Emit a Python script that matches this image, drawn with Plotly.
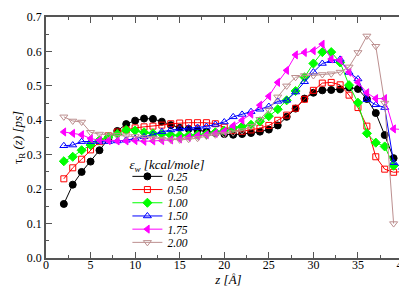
import plotly.graph_objects as go

z_short = list(range(2, 40))   # 2..39
z_long = list(range(2, 41))    # 2..40

labels = ["0.25", "0.50", "1.00", "1.50", "1.75", "2.00"]

tau_025 = [0.157, 0.213, 0.250, 0.280, 0.313, 0.346, 0.369, 0.389, 0.399, 0.405,
           0.404, 0.396, 0.386, 0.378, 0.375, 0.371, 0.367, 0.363, 0.360, 0.358,
           0.360, 0.363, 0.367, 0.373, 0.385, 0.410, 0.434, 0.463, 0.480, 0.487,
           0.488, 0.490, 0.495, 0.491, 0.462, 0.421, 0.357, 0.290]
tau_050 = [0.230, 0.262, 0.287, 0.314, 0.338, 0.355, 0.366, 0.372, 0.378, 0.381,
           0.383, 0.386, 0.390, 0.392, 0.393, 0.393, 0.393, 0.390, 0.380, 0.370,
           0.368, 0.372, 0.377, 0.385, 0.400, 0.415, 0.435, 0.461, 0.487, 0.508,
           0.510, 0.503, 0.473, 0.437, 0.383, 0.294, 0.258, 0.249, 0.251]
tau_100 = [0.281, 0.294, 0.313, 0.328, 0.342, 0.351, 0.360, 0.372, 0.370, 0.365,
           0.362, 0.360, 0.357, 0.356, 0.356, 0.358, 0.360, 0.365, 0.370, 0.378,
           0.382, 0.387, 0.397, 0.412, 0.432, 0.458, 0.485, 0.525, 0.565, 0.598,
           0.598, 0.568, 0.502, 0.451, 0.362, 0.335, 0.324, 0.268]
tau_150 = [0.326, 0.328, 0.338, 0.338, 0.338, 0.338, 0.340, 0.342, 0.347, 0.352,
           0.358, 0.367, 0.372, 0.375, 0.377, 0.379, 0.382, 0.388, 0.395, 0.410,
           0.417, 0.425, 0.432, 0.440, 0.455, 0.458, 0.482, 0.512, 0.540, 0.565,
           0.573, 0.577, 0.539, 0.520, 0.460, 0.445, 0.437, 0.277, 0.263]
tau_175 = [0.366, 0.362, 0.358, 0.347, 0.342, 0.341, 0.340, 0.340, 0.341, 0.339,
           0.340, 0.341, 0.343, 0.346, 0.351, 0.355, 0.358, 0.362, 0.368, 0.384,
           0.400, 0.418, 0.444, 0.470, 0.510, 0.545, 0.590, 0.597, 0.602, 0.621,
           0.578, 0.574, 0.540, 0.510, 0.480, 0.463, 0.463, 0.375, 0.373]
tau_200 = [0.410, 0.398, 0.395, 0.365, 0.360, 0.358, 0.357, 0.355, 0.353, 0.350,
           0.348, 0.345, 0.343, 0.343, 0.345, 0.348, 0.354, 0.358, 0.360, 0.364,
           0.370, 0.383, 0.403, 0.430, 0.468, 0.500, 0.525, 0.530, 0.530, 0.533,
           0.535, 0.540, 0.555, 0.597, 0.645, 0.615, 0.450, 0.100]

x_ticks = [0, 5, 10, 15, 20, 25, 30, 35, 40]
y_ticks = [0.0, 0.1, 0.2, 0.3, 0.4, 0.5, 0.6, 0.7]

series = [
    (z_short, tau_025, "black", "circle", "black", 7),
    (z_long, tau_050, "#ff0000", "square-open", "#ff0000", 6),
    (z_short, tau_100, "#00ff00", "diamond", "#00ff00", 7),
    (z_long, tau_150, "#0000ff", "triangle-up-open", "#0000ff", 7),
    (z_long, tau_175, "#ff00ff", "triangle-left", "#ff00ff", 7),
    (z_short, tau_200, "#bc8f8f", "triangle-down-open", "#bc8f8f", 7),
]

FONT = "Liberation Serif, Times New Roman, serif"

fig = go.Figure()
for (zz, yy, col, sym, mcol, msz), lab in zip(series, labels):
    fig.add_trace(go.Scatter(
        x=zz, y=yy, name=lab, mode="lines+markers",
        line=dict(color=col, width=1),
        marker=dict(symbol=sym, color=mcol, size=msz, line=dict(color=mcol, width=1)),
    ))

axis_common = dict(
    showline=True, linecolor="#555555", linewidth=1.5, mirror="ticks",
    ticks="inside", tickcolor="#555555", ticklen=6, tickwidth=1,
    showgrid=False, zeroline=False,
)

fig.update_xaxes(
    range=[0, 40.95], tickvals=x_ticks, ticktext=[str(v) for v in x_ticks],
    tickfont=dict(family=FONT, size=12, color="black"),
    ticklabelstandoff=-5,
    minor=dict(dtick=2.5, ticklen=3, ticks="inside", tickcolor="#555555"),
    title=dict(text="<i>z [Å]</i>", font=dict(family=FONT, size=13, color="black"), standoff=0),
    **axis_common,
)
fig.update_yaxes(
    range=[0, 0.7], tickvals=y_ticks, ticktext=[f"{v:.1f}" for v in y_ticks],
    tickfont=dict(family=FONT, size=12, color="black"),
    minor=dict(dtick=0.05, ticklen=3, ticks="inside", tickcolor="#555555"),
    ticklabeloverflow="allow",
    title=dict(text="τ<sub>R</sub> <i>(z) [ps]</i>", font=dict(family=FONT, size=13, color="black"), standoff=0),
    **axis_common,
)

fig.update_layout(
    width=407, height=287,
    margin=dict(l=38, r=2, t=5, b=31),
    paper_bgcolor="white", plot_bgcolor="white",
    showlegend=True,
    legend=dict(
        x=0.223, y=0.44, xanchor="left", yanchor="top",
        bgcolor="rgba(0,0,0,0)", borderwidth=0,
        itemwidth=30,
        font=dict(family=FONT, size=11.5, color="black", style="italic"),
        title=dict(text="ε<sub>w</sub> <i>[kcal/mole]</i>", font=dict(family=FONT, size=13, color="black")),
    ),
)

post = """
var gd = document.getElementById('{plot_id}');
function squeeze(){
  var items = gd.querySelectorAll('g.legend g.traces');
  var first = null;
  for (var i = 0; i < items.length; i++) {
    var el = items[i];
    var t = el.getAttribute('transform') || '';
    var m = t.match(/translate\\(\\s*([-\\d.e]+)[ ,]+([-\\d.e]+)\\s*\\)/);
    if (!m) continue;
    var x = parseFloat(m[1]), y = parseFloat(m[2]);
    if (first === null) { first = y; if (!el.hasAttribute('data-sq')) first = y - 7; }
    el.setAttribute('data-sq', '1');
    el.setAttribute('transform', 'translate(' + x + ',' + (first + i * 13.2) + ')');
  }
}
squeeze();
if (gd.on) gd.on('plotly_afterplot', squeeze);
"""

fig.write_html("out.html", config={"displayModeBar": False}, post_script=post)
